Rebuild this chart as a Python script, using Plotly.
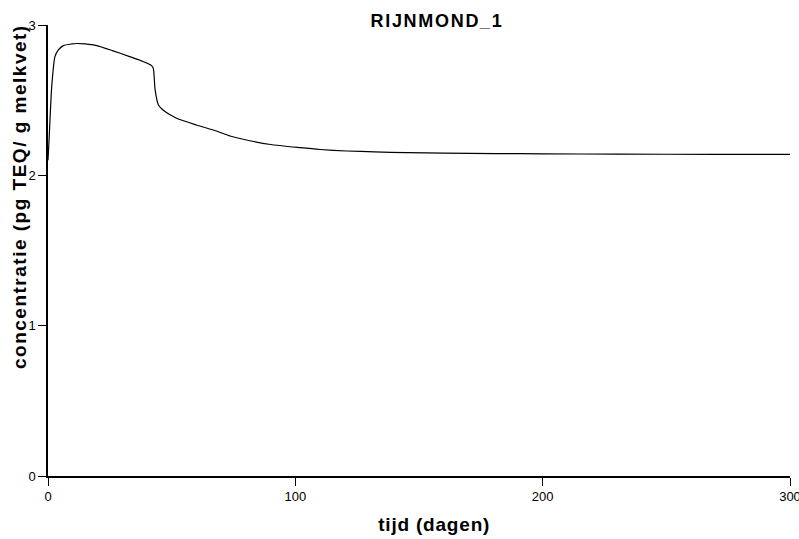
import plotly.graph_objects as go

days = [0, 0.5, 1.5, 2.8, 4.2, 6.2, 9.6, 11.6, 15, 19.7, 26, 33, 38, 41.9, 42.6, 43.3, 44.6, 47.3,
        52, 60, 68, 73.6, 78.9, 90, 101.9, 110, 120.7, 132, 145, 160, 181, 200, 230, 270, 300]
conc = [2.10, 2.26, 2.59, 2.79, 2.834, 2.863, 2.874, 2.877, 2.874, 2.863, 2.83, 2.79, 2.76, 2.73, 2.71, 2.57, 2.47, 2.424,
        2.38, 2.335, 2.295, 2.262, 2.24, 2.205, 2.184, 2.172, 2.162, 2.156, 2.151, 2.148, 2.145, 2.143, 2.141, 2.140, 2.140]

x_ticks = [0, 100, 200, 300]
y_ticks = [0, 1, 2, 3]
title = "RIJNMOND_1"
x_title = "tijd (dagen)"
y_title = "concentratie (pg TEQ/ g melkvet)"

W, H = 799, 539
L, R, T, B = 48, 9, 25, 63
PW, PH = W - L - R, H - T - B

fig = go.Figure()
fig.add_trace(go.Scatter(x=days, y=conc, mode="lines",
                         line=dict(color="black", width=1.2, shape="spline", smoothing=0.6),
                         showlegend=False, hoverinfo="skip", cliponaxis=False))

font = "Liberation Sans, Arial, sans-serif"
axis_common = dict(ticks="outside", ticklen=8, tickcolor="black", tickwidth=1,
                   showline=True, linecolor="black", linewidth=1.5, showgrid=False, zeroline=False,
                   ticklabeloverflow="allow",
                   tickfont=dict(size=13, family=font, color="black"))
fig.update_layout(
    width=W, height=H,
    margin=dict(l=L, r=R, t=T, b=B, autoexpand=False),
    paper_bgcolor="white", plot_bgcolor="white",
    font=dict(family=font, color="black", size=12),
    xaxis=dict(range=[0, 300], tickvals=x_ticks, **axis_common),
    yaxis=dict(range=[0, 3], tickvals=y_ticks, **axis_common),
)
fig.add_annotation(text="<b>" + title + "</b>", x=(437 - L) / PW, y=1 + (T - 21) / PH,
                   xref="paper", yref="paper", showarrow=False, font=dict(size=18, family=font),
                   xanchor="center", yanchor="middle")
fig.add_annotation(text="<b>" + x_title + "</b>", x=(434 - L) / PW, y=-(524 - (H - B)) / PH,
                   xref="paper", yref="paper", showarrow=False, font=dict(size=19, family=font),
                   xanchor="center", yanchor="middle")
fig.add_annotation(text="<b>" + y_title + "</b>", x=-(L - 19) / PW, y=(H - B - 197) / PH,
                   xref="paper", yref="paper", showarrow=False, font=dict(size=19, family=font),
                   textangle=-90, xanchor="center", yanchor="middle")

post = """
document.body.style.margin='0';document.body.style.padding='0';
function fixSpacing(){
  var sp = {'RIJNMOND_1':'1.7px','tijd (dagen)':'0.8px','concentratie (pg TEQ/ g melkvet)':'1.5px'};
  document.querySelectorAll('.annotation-text').forEach(function(t){
    var s = sp[t.textContent];
    if(s){ t.style.letterSpacing = s; }
  });
}
fixSpacing();
setTimeout(fixSpacing, 50);
var gd = document.getElementById('{plot_id}');
if(gd && gd.on){ gd.on('plotly_afterplot', fixSpacing); }
"""
fig.write_html("out.html", config={"displayModeBar": False}, post_script=post)
